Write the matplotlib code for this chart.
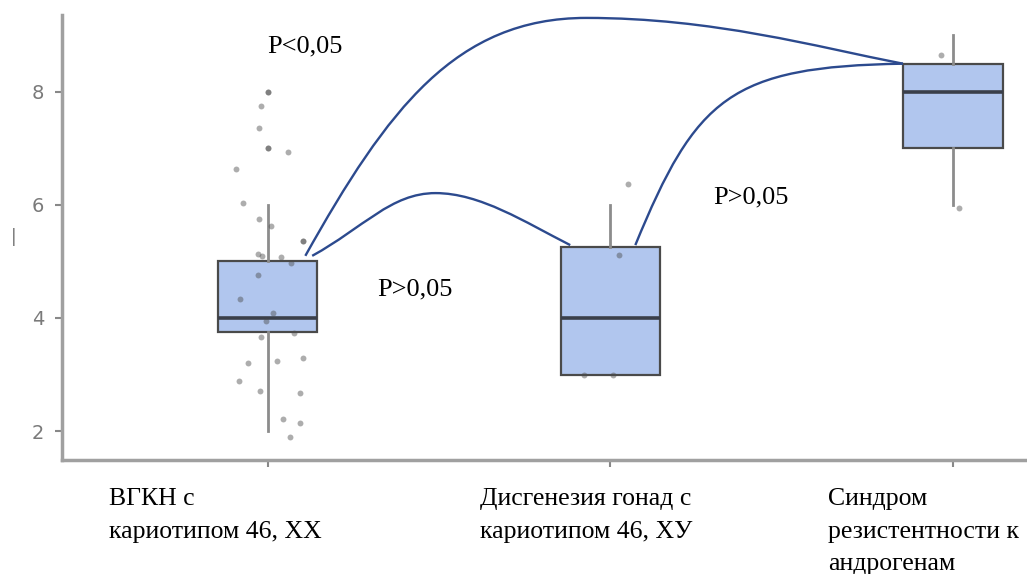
import numpy as np
import matplotlib.pyplot as plt
from matplotlib.path import Path
from matplotlib.patches import PathPatch

# box statistics
groups = ["ВГКН с\nкариотипом 46, XX",
          "Дисгенезия гонад с\nкариотипом 46, ХУ",
          "Синдром\nрезистентности к\nандрогенам"]
q1 = [3.75, 3.0, 7.0]
med = [4.0, 4.0, 8.0]
q3 = [5.0, 5.25, 8.5]
whislo = [2.0, 3.0, 6.0]
whishi = [6.0, 6.0, 9.0]

# jittered points: group index, x offset (category units), value
pt_group = [0] * 32 + [1] * 4 + [2] * 2
pt_dx = [0.0, 0.0, -0.02, -0.026, 0.0, 0.0, 0.058, -0.093, -0.073, -0.026,
         0.009, 0.102, 0.102, -0.029, -0.015, 0.038, 0.067, -0.029, -0.082,
         0.017, -0.006, -0.02, 0.076, -0.058, 0.026, 0.102, -0.085, -0.023,
         0.093, 0.044, 0.093, 0.064,
         0.052, 0.026, -0.076, 0.009,
         -0.035, 0.017]
pt_val = [8.0, 8.0, 7.75, 7.36, 7.0, 7.0, 6.94, 6.64, 6.03, 5.75,
          5.63, 5.37, 5.37, 5.13, 5.1, 5.08, 4.97, 4.76, 4.34,
          4.09, 3.95, 3.66, 3.73, 3.2, 3.24, 3.29, 2.88, 2.7,
          2.67, 2.21, 2.15, 1.89,
          6.37, 5.11, 3.0, 3.0,
          8.65, 5.95]

# comparison labels
p_labels = ["P<0,05", "P>0,05", "P>0,05"]
p_pos = [(0.11, 8.81), (0.43, 4.51), (1.41, 6.14)]

fig = plt.figure(figsize=(10.27, 5.74), dpi=100)
ax = fig.add_axes([0.0604, 0.1986, 0.9396, 0.7754])

stats = []
for i in range(3):
    stats.append(dict(med=med[i], q1=q1[i], q3=q3[i], whislo=whislo[i],
                      whishi=whishi[i], fliers=[]))
ax.bxp(stats, positions=[0, 1, 2], widths=0.29, patch_artist=True,
       showcaps=False, showfliers=False,
       boxprops=dict(facecolor="#b1c6ee", edgecolor="#4a4a4a", linewidth=1.6),
       medianprops=dict(color="#3a3f4a", linewidth=2.6),
       whiskerprops=dict(color="#8c8c8c", linewidth=2.0), zorder=2)

px = [g + d for g, d in zip(pt_group, pt_dx)]
ax.scatter(px, pt_val, s=18, color="#4a4a4a", alpha=0.45, linewidths=0,
           zorder=3)

# hand drawn connector curves
navy = "#2c4a8e"
curves = [
    [(0.11, 5.1), (0.35, 7.7), (0.55, 9.31), (0.93, 9.31),
     (1.3, 9.31), (1.6, 8.8), (1.854, 8.5)],
    [(0.13, 5.1), (0.28, 5.6), (0.36, 6.21), (0.49, 6.21),
     (0.62, 6.21), (0.75, 5.7), (0.883, 5.29)],
    [(1.073, 5.29), (1.25, 7.9), (1.35, 8.45), (1.854, 8.5)],
]
for c in curves:
    codes = [Path.MOVETO] + [Path.CURVE4] * (len(c) - 1)
    ax.add_patch(PathPatch(Path(c, codes), facecolor="none", edgecolor=navy,
                           linewidth=1.7, zorder=4, clip_on=False))

for lab, (x, y) in zip(p_labels, p_pos):
    ax.text(x, y, lab, fontsize=19, family="Liberation Serif", ha="center",
            va="center", color="black")

label_x = [-0.464, 0.621, 1.636]
for lx, g in zip(label_x, groups):
    ax.text(lx, -0.064, g, transform=ax.get_xaxis_transform(), ha="left",
            va="top", fontsize=18.5, family="Liberation Serif",
            linespacing=1.6)

ax.set_xlim(-0.6, 2.216)
ax.set_ylim(1.487, 9.363)
ax.set_yticks([2, 4, 6, 8])
ax.set_xticks([0, 1, 2])
ax.set_xticklabels([])
ax.tick_params(colors="#888888", labelsize=14, length=5, width=1.5, pad=8)
ax.tick_params(axis="y", labelcolor="#7a7a7a")
for s in ["top", "right"]:
    ax.spines[s].set_visible(False)
for s in ["left", "bottom"]:
    ax.spines[s].set_color("#a0a0a0")
    ax.spines[s].set_linewidth(2.5)

fig.text(0.013, 0.587, "|", fontsize=12, color="#707070", ha="center",
         va="center")

fig.savefig("out.png", dpi=100)
